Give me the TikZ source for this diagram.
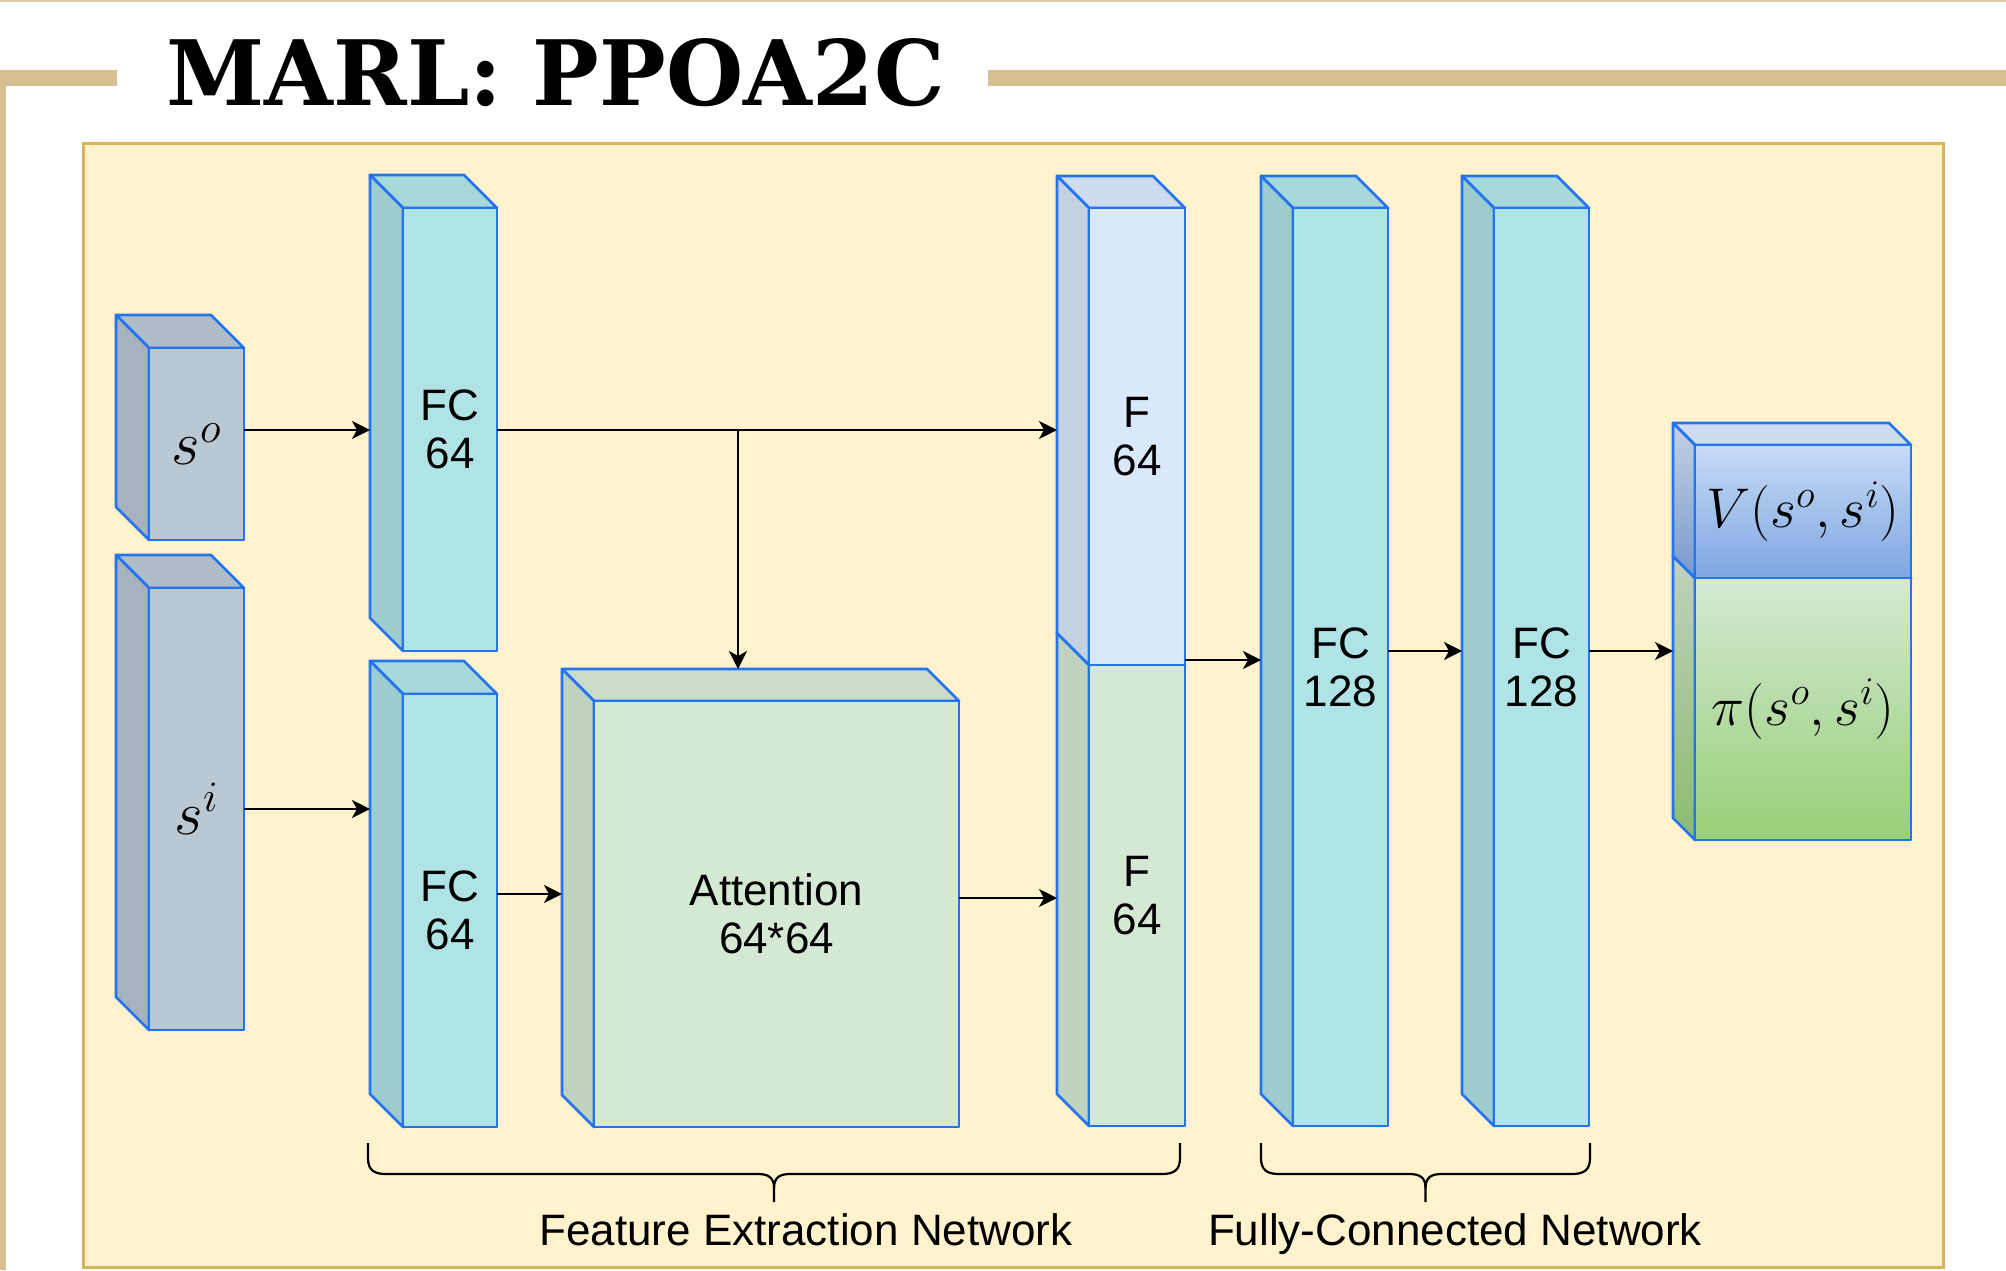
\RequirePackage{fix-cm}
\documentclass[tikz,border=0pt]{standalone}
\usepackage{graphicx}
\usepackage{fontspec}
\setmainfont{Liberation Sans}
\newfontfamily\titlefont{DejaVu Serif}
\usetikzlibrary{arrows.meta,fit}

% цвета
\definecolor{edge}{HTML}{2474F0}
\definecolor{bar}{HTML}{D6BF92}
\definecolor{panelfill}{HTML}{FFF2CC}
\definecolor{panelline}{HTML}{D6B656}
\definecolor{sfront}{HTML}{BAC8D3}
\definecolor{sside}{HTML}{A6B3BE}
\definecolor{stop}{HTML}{B0BDC8}
\definecolor{fcfront}{HTML}{B0E3E6}
\definecolor{fcside}{HTML}{9ECBCE}
\definecolor{fctop}{HTML}{A7D8DA}
\definecolor{gfront}{HTML}{D5E8D4}
\definecolor{gside}{HTML}{C0D1BF}
\definecolor{gtop}{HTML}{CADCC9}
\definecolor{bfront}{HTML}{DAE8FC}
\definecolor{bside}{HTML}{C4D1E3}
\definecolor{btop}{HTML}{CFDCEF}
\definecolor{vlow}{HTML}{7EA6E0}
\definecolor{vside}{HTML}{7898CC}
\definecolor{pilow}{HTML}{97D077}
\definecolor{piside}{HTML}{8CBB6E}

% объёмный блок: #1 узел, #2 глубина, #3 передняя грань, #4 боковая, #5 верхняя
\newcommand{\layerbox}[5]{%
  \path[#5] (#1.north west) -- ([xshift=-#2]#1.north east) -- ([yshift=-#2]#1.north east)
    -- ([shift={(#2,-#2)}]#1.north west) -- cycle;
  \path[#4] (#1.north west) -- ([shift={(#2,-#2)}]#1.north west) -- ([xshift=#2]#1.south west)
    -- ([yshift=#2]#1.south west) -- cycle;
  \path[#3] ([shift={(#2,-#2)}]#1.north west) rectangle (#1.south east);
}

% фигурная скобка под группой слоёв
\newcommand{\netbrace}[2]{%
  \pgfmathsetmacro\bmid{(#1+#2)/2}
  \draw[brace line] (#1,1143) -- (#1,1158) .. controls (#1,1170) and (#1+6,1174) .. (#1+18,1174)
    -- (\bmid-16,1174) .. controls (\bmid-5,1174) and (\bmid,1178) .. (\bmid,1188) -- (\bmid,1202);
  \draw[brace line] (#2,1143) -- (#2,1158) .. controls (#2,1170) and (#2-6,1174) .. (#2-18,1174)
    -- (\bmid+16,1174) .. controls (\bmid+5,1174) and (\bmid,1178) .. (\bmid,1188);
}

\tikzset{
  blk/.style={inner sep=0pt, outer sep=0pt},
  face/.style={draw=edge, line width=1.4pt, line join=round},
  lbl/.style={align=center, font=\fontsize{22}{24}\selectfont},
  inlbl/.style={font=\fontsize{31}{31}\selectfont},
  outlbl/.style={font=\fontsize{28}{28}\selectfont},
  netlbl/.style={font=\fontsize{22}{24}\selectfont, anchor=base},
  flow/.style={line width=1.3pt, -{Stealth[length=9pt,width=9pt,inset=2.5pt]}},
  brace line/.style={line width=1.1pt},
}

\begin{document}
\begin{tikzpicture}[x=0.5pt, y=-0.5pt]
    \useasboundingbox (0,0) rectangle (2006,1270);

    % рамка и заголовок
    \fill[bar!80] (0,0) rectangle (2006,2);
    \fill[bar] (0,70) rectangle (117,86);
    \fill[bar] (0,70) rectangle (6,1270);
    \fill[bar] (988,70) rectangle (2006,86);
    \node[anchor=south west, inner sep=0pt] (title) at (166,107)
        {\resizebox{389pt}{33.5pt}{\titlefont\bfseries MARL: PPOA2C}};
    \draw[panelline, fill=panelfill, line width=1.5pt] (83,143) rectangle (1943,1267);

    % габариты блоков
    \node[blk, fit={(116,315) (244,540)}] (so) {};
    \node[blk, fit={(116,555) (244,1030)}] (si) {};
    \node[blk, fit={(370,175) (497,651)}] (fcA) {};
    \node[blk, fit={(370,661) (497,1127)}] (fcB) {};
    \node[blk, fit={(562,669) (959,1127)}] (att) {};
    \node[blk, fit={(1057,633) (1185,1126)}] (fL) {};
    \node[blk, fit={(1057,176) (1185,665)}] (fU) {};
    \node[blk, fit={(1261,176) (1388,1126)}] (fcC) {};
    \node[blk, fit={(1462,176) (1589,1126)}] (fcD) {};
    \node[blk, fit={(1673,556) (1911,840)}] (oL) {};
    \node[blk, fit={(1673,423) (1911,578)}] (oU) {};

    % грани
    \layerbox{so}{16.5pt}{face, fill=sfront}{face, fill=sside}{face, fill=stop}
    \layerbox{si}{16.5pt}{face, fill=sfront}{face, fill=sside}{face, fill=stop}
    \layerbox{fcA}{16.5pt}{face, fill=fcfront}{face, fill=fcside}{face, fill=fctop}
    \layerbox{fcB}{16.5pt}{face, fill=fcfront}{face, fill=fcside}{face, fill=fctop}
    \layerbox{att}{16pt}{face, fill=gfront}{face, fill=gside}{face, fill=gtop}
    \layerbox{fL}{16pt}{face, fill=gfront}{face, fill=gside}{face, fill=gtop}
    \layerbox{fU}{16pt}{face, fill=bfront}{face, fill=bside}{face, fill=btop}
    \layerbox{fcC}{16pt}{face, fill=fcfront}{face, fill=fcside}{face, fill=fctop}
    \layerbox{fcD}{16pt}{face, fill=fcfront}{face, fill=fcside}{face, fill=fctop}
    \layerbox{oL}{11pt}{face, top color=gfront, bottom color=pilow}{face, top color=gside, bottom color=piside}{face, fill=gtop}
    \layerbox{oU}{11pt}{face, top color=bfront!80!vlow, bottom color=vlow}{face, top color=bside, bottom color=vside}{face, fill=btop}

    % подписи
    \node[inlbl] (so-t) at ([shift={(8.25pt,-8.25pt)}]so.center) {$s^o$};
    \node[inlbl] (si-t) at ([shift={(8.25pt,-8.25pt)}]si.center) {$s^i$};
    \node[lbl] (fcA-t) at ([shift={(8.25pt,-8.25pt)}]fcA.center) {FC\\64};
    \node[lbl] (fcB-t) at ([shift={(8.25pt,-8.25pt)}]fcB.center) {FC\\64};
    \node[lbl] (att-t) at ([shift={(8pt,-8pt)}]att.center) {Attention\\64*64};
    \node[lbl] (fU-t) at ([shift={(8pt,-8pt)}]fU.center) {F\\64};
    \node[lbl] (fL-t) at ([shift={(8pt,-8pt)}]fL.center) {F\\64};
    \node[lbl] (fcC-t) at ([shift={(8pt,-8pt)}]fcC.center) {FC\\128};
    \node[lbl] (fcD-t) at ([shift={(8pt,-8pt)}]fcD.center) {FC\\128};
    \node[outlbl] (oU-t) at ([shift={(5.5pt,-5.5pt)}]oU.center) {$V(s^o,s^i)$};
    \node[outlbl] (oL-t) at ([shift={(5.5pt,-5.5pt)}]oL.center) {$\pi(s^o,s^i)$};

    % связи
    \coordinate (tap) at (738,430);
    \coordinate (siout) at ([yshift=-8.25pt]si.east);
    \coordinate (fout) at ([yshift=2.5pt]fU.south east);
    \draw[flow] (so.east |- tap) -- (tap -| fcA.west);
    \draw[flow] (fcA.east |- tap) -- (tap -| fU.west);
    \draw[flow] (tap) -- (tap |- att.north);
    \draw[flow] (siout) -- (siout -| fcB.west);
    \draw[flow] (fcB.east) -- (fcB.east -| att.west);
    \draw[flow] (att.east) -- (att.east -| fL.west);
    \draw[flow] (fout) -- (fout -| fcC.west);
    \draw[flow] (fcC.east) -- (fcD.west);
    \draw[flow] (fcD.east) -- (fcD.east -| oL.west);

    % группы
    \netbrace{368}{1180}
    \netbrace{1261}{1590}
    \node[netlbl] (fen) at (806,1245) {Feature Extraction Network};
    \node[netlbl] (fcn) at (1455,1245) {Fully-Connected Network};
\end{tikzpicture}
\end{document}
